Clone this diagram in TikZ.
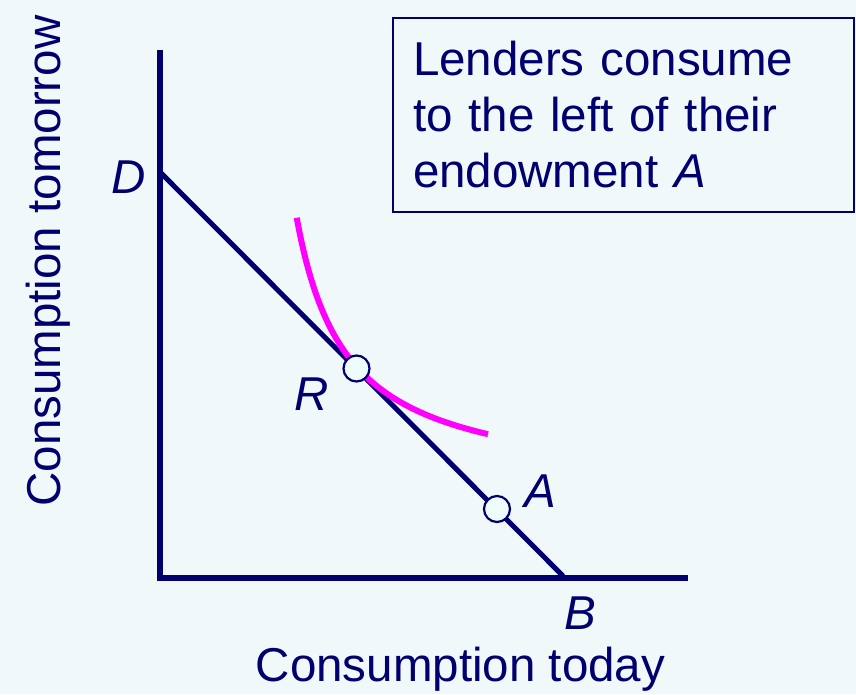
\documentclass[tikz,border=0pt]{standalone}
\usepackage{fontspec}
\setmainfont{Liberation Sans}
\usepackage{xcolor}
\usepackage{tikz}
\usetikzlibrary{positioning}

\definecolor{navy}{RGB}{0,0,110}
\definecolor{bgblue}{RGB}{240,248,250}
\definecolor{dotfill}{RGB}{238,252,252}
\definecolor{curvepink}{RGB}{255,0,255}

\begin{document}
\begin{tikzpicture}[x=1pt, y=-1pt,
    every node/.style={text=navy, font=\fontsize{47.5}{56}\selectfont},
    point_label/.style={font=\fontsize{47.5}{56}\selectfont\itshape, anchor=base},
    dot/.style={circle, draw=navy, line width=2.2pt, fill=dotfill, minimum size=26pt, inner sep=0pt}]
    \fill[bgblue] (0,0) rectangle (856,694);
    \useasboundingbox (0,0) rectangle (856,694);

    % Axes
    \coordinate (y_top) at (160,50);
    \coordinate (origin) at (160,578);
    \coordinate (x_end) at (688,578);
    \draw[navy, line width=5.5pt] (y_top) -- (origin) -- (x_end);

    % Budget line
    \coordinate (D) at (160,172);
    \coordinate (B) at (563,576);
    \draw[navy, line width=5pt] (D) -- (B);

    % Indifference curve
    \draw[curvepink, line width=6pt, domain=296.7:488, samples=80] plot (\x, {490.4-13550/(\x-247)});

    % Points R and A
    \node[dot] (point_R) at (356.5,368.5) {};
    \node[dot] (point_A) at (497,509) {};

    % Point labels
    \node[point_label] (label_D) at (129,193) {D};
    \node[point_label] (label_R) at (312,410) {R};
    \node[point_label] (label_A) at (540,507) {A};
    \node[point_label] (label_B) at (580,629) {B};

    % Axis titles
    \node[anchor=base] (x_title) at (460.5,681.7) {Consumption today};
    \node[rotate=90, anchor=base] (y_title) at (60,261) {Consumption tomorrow};

    % Note
    \node[draw=navy, line width=2pt, anchor=north west, minimum width=461pt, minimum height=194pt,
        text width=421pt, inner xsep=20pt, align=left] (note_box) at (392,17)
        {Lenders consume\\to the left of their\\endowment \textit{A}};
\end{tikzpicture}
\end{document}
